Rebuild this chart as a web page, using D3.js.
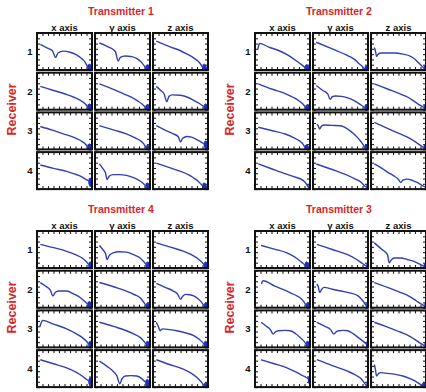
<!DOCTYPE html>
<html>
<head>
<meta charset="utf-8">
<script src="https://cdn.jsdelivr.net/npm/d3@7"></script>
<style>
  html, body { margin: 0; padding: 0; background: #ffffff; }
  svg { display: block; }
</style>
</head>
<body>
<svg id="chart" width="426" height="392"></svg>
<script>
// ---- data: each curve is a list of [frequency %, level %]
const axesNames = ["x axis", "y axis", "z axis"];
const receivers = ["1", "2", "3", "4"];
const panelTitles = ["Transmitter 1", "Transmitter 2", "Transmitter 4", "Transmitter 3"];

const tx1 = [
  [[6,69],[18,60],[28,52],[34,34],[38,46],[48,51],[60,48],[72,41],[82,30],[88,20],[92,8]],
  [[8,73],[25,62],[37,50],[42,24],[46,34],[55,38],[67,36],[77,30],[85,20],[92,6]],
  [[6,78],[30,63],[50,52],[62,43],[72,35],[80,26],[86,17],[90,8]],
  [[6,63],[30,52],[54,41],[68,33],[79,25],[87,17],[92,8]],
  [[8,70],[30,57],[52,43],[66,34],[76,25],[85,16],[92,6]],
  [[6,63],[14,52],[20,43],[25,22],[29,36],[35,40],[50,39],[64,33],[74,25],[85,16],[93,8]],
  [[6,62],[28,52],[48,42],[66,33],[79,24],[87,16],[92,7]],
  [[8,64],[35,52],[57,42],[72,32],[82,24],[89,14],[93,4]],
  [[6,64],[22,52],[37,42],[46,34],[50,20],[54,30],[62,35],[70,33],[78,28],[86,21],[93,15]],
  [[6,65],[30,56],[54,48],[68,41],[79,35],[88,27],[94,22]],
  [[8,68],[14,56],[19,44],[22,26],[26,35],[33,39],[45,39],[57,37],[70,31],[82,22],[88,15],[92,9]],
  [[6,70],[30,58],[50,48],[64,39],[74,30],[83,20],[90,9]]
];

const tx2 = [
  [[5,55],[6,62],[8,72],[25,62],[44,52],[60,40],[75,25],[85,14],[91,7]],
  [[6,75],[35,57],[63,39],[76,28],[84,17],[90,9],[94,3]],
  [[6,61],[8,52],[10,37],[13,43],[18,46],[42,46],[58,43],[72,37],[80,29],[87,19],[96,5]],
  [[6,70],[30,56],[56,43],[70,33],[81,23],[88,14],[92,6]],
  [[6,65],[18,52],[27,42],[31,28],[35,35],[41,37],[52,36],[63,32],[73,26],[81,19],[88,12],[94,6]],
  [[6,70],[30,56],[54,42],[68,33],[78,23],[88,13],[96,6]],
  [[6,60],[30,51],[56,41],[70,32],[81,23],[88,13],[91,5]],
  [[7,68],[10,62],[12,55],[15,62],[19,66],[35,65],[50,64],[63,55],[75,41],[85,25],[91,13],[94,5]],
  [[6,73],[30,57],[54,41],[68,32],[78,23],[88,13],[96,5]],
  [[6,68],[30,55],[56,41],[72,33],[88,23],[93,15],[97,5]],
  [[6,68],[35,53],[63,37],[77,27],[88,18],[93,10],[97,5]],
  [[6,68],[20,56],[32,44],[40,37],[50,26],[54,18],[58,24],[66,27],[76,23],[84,18],[92,11],[99,5]]
];

const tx4 = [
  [[6,64],[30,55],[54,45],[70,36],[82,27],[89,18],[94,9]],
  [[8,61],[14,50],[19,39],[22,23],[26,34],[33,41],[45,44],[57,43],[70,36],[82,27],[88,18],[93,9]],
  [[6,68],[30,57],[56,45],[70,36],[80,27],[87,18],[93,9]],
  [[6,68],[16,58],[24,48],[29,32],[33,41],[39,45],[54,45],[67,37],[79,27],[86,18],[92,9]],
  [[8,68],[35,56],[57,45],[72,35],[82,27],[88,16],[93,5]],
  [[6,66],[22,55],[37,45],[45,36],[50,23],[54,31],[59,36],[67,35],[74,32],[82,24],[88,15],[93,5]],
  [[5,55],[7,64],[10,73],[30,63],[54,50],[70,38],[82,27],[89,18],[94,9]],
  [[8,68],[35,56],[57,45],[72,35],[82,27],[88,18],[93,9]],
  [[6,68],[10,55],[13,45],[15,48],[18,50],[30,48],[43,45],[60,39],[74,32],[84,22],[93,9]],
  [[6,74],[30,63],[54,52],[70,41],[82,30],[89,22],[94,17]],
  [[8,70],[22,56],[33,43],[40,30],[45,9],[49,22],[55,30],[65,31],[76,30],[85,23],[92,13]],
  [[6,74],[30,61],[56,48],[70,37],[80,26],[87,15],[93,4]]
];

const tx3 = [
  [[11,61],[35,51],[58,41],[72,30],[82,19],[87,13],[91,9]],
  [[7,64],[35,50],[63,36],[77,25],[88,14],[93,9],[97,5]],
  [[6,68],[20,50],[30,36],[33,14],[37,22],[42,27],[54,27],[66,23],[78,18],[88,11],[96,5]],
  [[12,64],[13,70],[15,73],[35,59],[58,45],[72,35],[82,27],[89,16],[93,6]],
  [[7,64],[10,55],[12,41],[16,50],[20,55],[35,50],[51,45],[67,40],[82,32],[91,18],[97,5]],
  [[6,68],[30,55],[54,41],[68,32],[78,23],[88,13],[97,5]],
  [[11,68],[20,58],[28,48],[33,36],[37,42],[43,45],[55,46],[64,45],[74,37],[82,27],[89,17],[93,9]],
  [[7,68],[20,58],[32,48],[38,36],[42,42],[47,45],[55,46],[63,45],[73,37],[82,27],[91,17],[97,9]],
  [[6,68],[30,55],[54,41],[68,32],[78,23],[88,13],[97,5]],
  [[11,74],[35,63],[58,52],[74,41],[88,30],[93,26],[97,22]],
  [[7,74],[35,58],[63,43],[78,32],[88,22],[93,12],[97,4]],
  [[6,61],[8,48],[10,30],[14,37],[18,39],[30,37],[42,35],[58,30],[72,22],[84,13],[93,4]]
];

// noisy scribble at the high-frequency end, as offsets from the last point
const tailNoise = [[0.5,-8],[1,6],[1.5,-12],[2,4],[2.5,-14],[3,8],[3.5,-10],[4,2],
                   [4.5,-15],[5,6],[5.5,-9],[6,3],[6.5,-14],[7,0],[7.5,-11],[8,-4]];

const panels = [tx1, tx2, tx4, tx3];

// ---- layout
const svg = d3.select("#chart");
const panelOrigins = [[0, 0], [218, 0], [0, 198], [218, 198]];
const boxW = 55, boxH = 37, colPitch = 58, rowPitch = 39.7;
const box0x = 37, box0y = 33;

const x = d3.scaleLinear().domain([0, 100]).range([0, boxW]);
const y = d3.scaleLinear().domain([0, 100]).range([boxH, 0]);
const line = d3.line()
  .x(d => x(d[0]))
  .y(d => y(d[1]))
  .curve(d3.curveMonotoneX);
const noiseLine = d3.line()
  .x(d => x(d[0]))
  .y(d => y(d[1]));

const red = "#d8262a";
const blue = "#3340b4";
const fontFam = "'Liberation Sans', Arial, sans-serif";

panels.forEach((curves, p) => {
  const [ox, oy] = panelOrigins[p];
  const g = svg.append("g").attr("transform", `translate(${ox},${oy})`);

  g.append("text")
    .attr("x", 121).attr("y", 15)
    .attr("text-anchor", "middle")
    .attr("font-family", fontFam).attr("font-weight", "bold")
    .attr("font-size", 10.5).attr("fill", red)
    .text(panelTitles[p]);

  g.append("text")
    .attr("transform", `translate(16,${box0y + 2 * rowPitch - 3}) rotate(-90)`)
    .attr("text-anchor", "middle")
    .attr("font-family", fontFam).attr("font-weight", "bold")
    .attr("font-size", 12.5).attr("fill", red)
    .text("Receiver");

  axesNames.forEach((name, c) => {
    g.append("text")
      .attr("x", box0x + c * colPitch + boxW / 2).attr("y", 30.5)
      .attr("text-anchor", "middle")
      .attr("font-family", fontFam).attr("font-weight", "bold")
      .attr("font-size", 9.5).attr("fill", "#111")
      .text(name);
  });

  receivers.forEach((rname, r) => {
    g.append("text")
      .attr("x", 30).attr("y", box0y + r * rowPitch + boxH / 2 + 3.5)
      .attr("text-anchor", "middle")
      .attr("font-family", fontFam).attr("font-weight", "bold")
      .attr("font-size", 9.5).attr("fill", "#111")
      .text(rname);

    axesNames.forEach((name, c) => {
      const data = curves[r * 3 + c];
      const last = data[data.length - 1];
      const tail = [last].concat(tailNoise.map(([dx, dy]) =>
        [Math.min(99.5, last[0] + dx), Math.max(1, Math.min(99, last[1] + dy))]));
      const cell = g.append("g")
        .attr("transform", `translate(${box0x + c * colPitch},${box0y + r * rowPitch})`);

      // inward minor ticks on all four sides
      const ax = d3.scaleLinear().domain([0, 10]).range([0, boxW]);
      const ay = d3.scaleLinear().domain([0, 7]).range([boxH, 0]);
      const tickStyle = sel => {
        sel.selectAll("text").remove();
        sel.select(".domain").remove();
        sel.selectAll("line").attr("stroke", "#222").attr("stroke-width", 1.1);
      };
      cell.append("g").attr("transform", `translate(0,${boxH})`)
        .call(d3.axisBottom(ax).ticks(10).tickSize(-3).tickFormat("")).call(tickStyle);
      cell.append("g")
        .call(d3.axisTop(ax).ticks(10).tickSize(-3).tickFormat("")).call(tickStyle);
      cell.append("g")
        .call(d3.axisLeft(ay).ticks(7).tickSize(-3).tickFormat("")).call(tickStyle);
      cell.append("g").attr("transform", `translate(${boxW},0)`)
        .call(d3.axisRight(ay).ticks(7).tickSize(-3).tickFormat("")).call(tickStyle);

      cell.append("path")
        .datum(data)
        .attr("d", line)
        .attr("fill", "none")
        .attr("stroke", blue)
        .attr("stroke-width", 1.4)
        .attr("stroke-linejoin", "round");

      cell.append("path")
        .datum(tail)
        .attr("d", noiseLine)
        .attr("fill", "none")
        .attr("stroke", "#2030b0")
        .attr("stroke-width", 1.1)
        .attr("stroke-linejoin", "round");

      cell.append("rect")
        .attr("x", 0).attr("y", 0)
        .attr("width", boxW).attr("height", boxH)
        .attr("fill", "none")
        .attr("stroke", "#111")
        .attr("stroke-width", 2);
    });
  });
});
</script>
</body>
</html>
